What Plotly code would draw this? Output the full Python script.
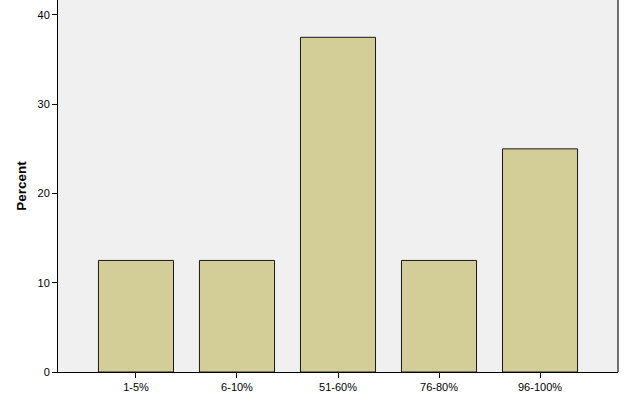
import plotly.graph_objects as go

categories = ["1-5%", "6-10%", "51-60%", "76-80%", "96-100%"]
percent = [12.5, 12.5, 37.5, 12.5, 25.0]
y_ticks = [0, 10, 20, 30, 40]

fig = go.Figure(go.Bar(
    x=categories, y=percent, width=0.743,
    marker=dict(color="#D3CE97", line=dict(color="#1a1a1a", width=1)),
))

fig.update_layout(
    width=625, height=399,
    margin=dict(l=58, r=7, t=0, b=27),
    paper_bgcolor="white", plot_bgcolor="#F0F0F0",
    font=dict(family="Liberation Sans, Arial", size=11, color="black"),
    showlegend=False,
    shapes=[dict(type="line", xref="paper", yref="paper", x0=1, x1=1, y0=0, y1=1,
                 line=dict(color="#444444", width=1.5))],
)
fig.update_xaxes(
    type="category", range=[-0.772, 4.772], showgrid=False, zeroline=False,
    showline=True, linecolor="black", linewidth=1,
    ticks="outside", ticklen=5, tickcolor="black",
)
fig.update_yaxes(
    range=[0, 41.68], tickvals=y_ticks, showgrid=False, zeroline=False,
    showline=True, linecolor="black", linewidth=1,
    ticks="outside", ticklen=5, tickcolor="black",
    title=dict(text="<b>Percent</b>", font=dict(size=13.5), standoff=7),
)

fig.write_html("out.html")
